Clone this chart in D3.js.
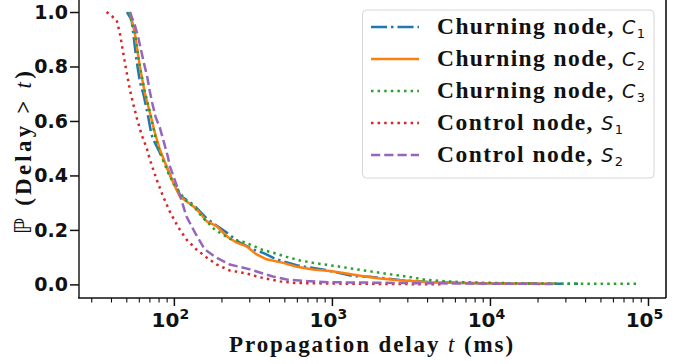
<!DOCTYPE html>
<html>
<head>
<meta charset="utf-8">
<script src="https://cdn.jsdelivr.net/npm/d3@7.9.0/dist/d3.min.js"></script>
<style>
  body { margin: 0; background: #fff; }
  svg { display: block; }
</style>
</head>
<body>
<svg id="chart" width="686" height="364"></svg>
<script>
// --- data: [delay ms, P(Delay > t)] ---
const c1 = [[50.5,1.0],[54,0.971],[55.3,0.922],[58,0.824],[60.9,0.745],[64.6,0.692],[68.7,0.616],
  [72.2,0.549],[75.8,0.52],[79.6,0.495],[89.9,0.433],[99,0.373],[109.2,0.326],[120,0.311],[132.5,0.293],
  [146,0.268],[161,0.242],[186,0.216],[216,0.19],[262,0.153],[318,0.128],[367,0.116],[446,0.092],
  [598,0.07],[925,0.052],[1364,0.03],[1741,0.028],[2690,0.016],[4170,0.008],[8650,0.004],[36100,0.002]];
const c2 = [[52.7,1.0],[56.6,0.923],[60.9,0.8],[65.5,0.703],[70.5,0.63],[75.8,0.557],[81.5,0.495],
  [89.9,0.433],[99,0.373],[109.2,0.323],[120,0.305],[132.5,0.287],[146,0.263],[161,0.232],[186,0.214],
  [216,0.177],[250,0.153],[288,0.14],[334,0.11],[386,0.092],[492,0.079],[598,0.065],[762,0.055],
  [971,0.049],[1239,0.04],[1579,0.03],[2013,0.022],[2566,0.016],[4170,0.008],[8650,0.004],[25700,0.002]];
const c3 = [[51.9,1.0],[56.6,0.923],[60.9,0.8],[65.5,0.707],[70.5,0.634],[77.8,0.519],[83.6,0.47],
  [92.1,0.409],[99,0.373],[117.4,0.311],[135.8,0.281],[153,0.244],[181.5,0.201],[226,0.167],[281,0.155],
  [359,0.128],[425,0.116],[516,0.101],[627,0.088],[762,0.079],[925,0.072],[1124,0.065],[1433,0.055],
  [1741,0.048],[2330,0.037],[3120,0.027],[3790,0.018],[5060,0.012],[6740,0.008],[9040,0.006],
  [14800,0.004],[30700,0.0026],[86500,0.002]];
const s1 = [[37.5,1.0],[43.4,0.971],[45.5,0.923],[47.7,0.853],[50.2,0.78],[52.7,0.714],[55.3,0.663],
  [58,0.615],[62.5,0.549],[67.2,0.502],[70.5,0.458],[77.8,0.385],[85.6,0.322],[94.3,0.267],[106,0.212],
  [120,0.165],[139,0.128],[161,0.099],[186,0.073],[226,0.051],[288,0.04],[350,0.026],[469,0.011],
  [591,0.005],[1000,0.003],[3000,0.001],[5000,0.0]];
const s2 = [[52.7,1.0],[56.6,0.952],[59.4,0.909],[64.6,0.813],[67.8,0.762],[70.5,0.707],[72.9,0.667],
  [76.6,0.615],[81.5,0.575],[86,0.527],[91.6,0.469],[94.4,0.433],[106.5,0.348],[120,0.25],[136,0.19],
  [157,0.128],[186,0.098],[226,0.073],[303,0.055],[366,0.04],[423,0.029],[519,0.018],[694,0.012],
  [971,0.008],[2013,0.006],[3767,0.004],[25000,0.0015]];

const seriesNames = ['Churning node, ', 'Churning node, ', 'Churning node, ', 'Control node, ', 'Control node, '];
const seriesSym   = ['C', 'C', 'C', 'S', 'S'];
const seriesSub   = ['1', '2', '3', '1', '2'];
const yTicks = [0, 0.2, 0.4, 0.6, 0.8, 1.0];
const xTicks = [100, 1000, 10000, 100000];

const styles = [
  { color: '#1f77b4', dash: '16,4,2.5,4' },
  { color: '#ff7f0e', dash: null },
  { color: '#2ca02c', dash: '2.5,4.1' },
  { color: '#d62728', dash: '2.5,4.1' },
  { color: '#9467bd', dash: '9.25,4' }
];
const allSeries = [c1, c2, c3, s1, s2];

const svg = d3.select('#chart');
const M = { left: 79, right: 666, top: -1.6, bottom: 298 };

const x = d3.scaleLog().domain([25.1, 130000]).range([M.left, M.right]);
const y = d3.scaleLinear().domain([-0.05, 1.05]).range([M.bottom, M.top]);

const SANS = "'DejaVu Sans', sans-serif";
const SERIF = "'Liberation Serif', 'Times New Roman', serif";

// widen a serif text with letter spacing so it spans the width seen in the picture
function fitWidth(sel, target) {
  const node = sel.node();
  const len = node.getComputedTextLength();
  const n = node.getNumberOfChars();
  sel.style('letter-spacing', ((target - len) / (n - 1)) + 'px');
}

// lines
const line = d3.line().x(d => x(d[0])).y(d => y(d[1]));
allSeries.forEach((s, i) => {
  svg.append('path')
    .datum(s)
    .attr('fill', 'none')
    .attr('stroke', styles[i].color)
    .attr('stroke-width', 2.5)
    .attr('stroke-dasharray', styles[i].dash)
    .attr('d', line);
});

// spines
svg.append('line').attr('x1', M.left).attr('x2', M.left).attr('y1', M.top).attr('y2', M.bottom)
  .attr('stroke', '#555').attr('stroke-width', 2);
svg.append('line').attr('x1', M.left - 1).attr('x2', M.right).attr('y1', M.bottom).attr('y2', M.bottom)
  .attr('stroke', '#111').attr('stroke-width', 1.6);
svg.append('line').attr('x1', M.right).attr('x2', M.right).attr('y1', M.top).attr('y2', M.bottom)
  .attr('stroke', '#111').attr('stroke-width', 1.6);

// y axis
const yAxis = svg.append('g')
  .attr('transform', `translate(${M.left},0)`)
  .call(d3.axisLeft(y).tickValues(yTicks).tickFormat(d3.format('.1f')).tickSize(9).tickPadding(2));
yAxis.select('.domain').remove();
yAxis.selectAll('.tick line').attr('stroke', '#111').attr('stroke-width', 1.5);
yAxis.selectAll('.tick text')
  .style('font-family', SANS).style('font-weight', 'bold').style('font-size', '19px').attr('fill', '#111');

// x axis: minor ticks then major
const minors = [];
for (let e = 1; e <= 5; e++) for (let m = 2; m <= 9; m++) {
  const v = m * Math.pow(10, e);
  if (v > x.domain()[0] && v < x.domain()[1]) minors.push(v);
}
const xMinor = svg.append('g')
  .attr('transform', `translate(0,${M.bottom})`)
  .call(d3.axisBottom(x).tickValues(minors).tickFormat('').tickSize(4.5));
xMinor.select('.domain').remove();
xMinor.selectAll('.tick line').attr('stroke', '#111').attr('stroke-width', 1.1);

const xAxis = svg.append('g')
  .attr('transform', `translate(0,${M.bottom})`)
  .call(d3.axisBottom(x).tickValues(xTicks).tickFormat('').tickSize(8));
xAxis.select('.domain').remove();
xAxis.selectAll('.tick line').attr('stroke', '#111').attr('stroke-width', 1.5);
xAxis.selectAll('.tick').each(function(d) {
  const t = d3.select(this).append('text')
    .attr('y', 29).attr('x', -4)
    .attr('text-anchor', 'middle')
    .attr('fill', '#111')
    .style('font-family', SANS).style('font-weight', 'bold').style('font-size', '20px');
  t.append('tspan').text('10');
  t.append('tspan').attr('dy', -8).style('font-size', '14px').text(Math.round(Math.log10(d)));
});

// axis labels
const xl = svg.append('text')
  .attr('x', 372).attr('y', 352)
  .attr('text-anchor', 'middle')
  .attr('fill', '#111')
  .style('font-family', SERIF).style('font-weight', 'bold').style('font-size', '23px');
xl.append('tspan').text('Propagation delay ');
xl.append('tspan').style('font-style', 'italic').style('font-weight', 'normal').text('t');
xl.append('tspan').text(' (ms)');
fitWidth(xl, 284);

const yl = svg.append('text')
  .attr('transform', 'translate(31,151) rotate(-90)')
  .attr('text-anchor', 'middle')
  .attr('fill', '#111')
  .style('font-family', SERIF).style('font-weight', 'bold').style('font-size', '23px');
yl.append('tspan').style('font-weight', 'normal').style('font-family', SANS).text('\u2119');
yl.append('tspan').text(' (Delay > ');
yl.append('tspan').style('font-style', 'italic').style('font-weight', 'normal').text('t');
yl.append('tspan').text(')');
fitWidth(yl, 163);

// legend
const lg = svg.append('g');
lg.append('rect')
  .attr('x', 362.5).attr('y', 10).attr('width', 291.5).attr('height', 168)
  .attr('rx', 4)
  .attr('fill', '#fff').attr('fill-opacity', 0.85)
  .attr('stroke', '#d6d6d6').attr('stroke-width', 1);

const legendWidths = [208, 208, 208, 186, 186];
seriesNames.forEach((name, i) => {
  const cy = 27 + i * 32;
  lg.append('line')
    .attr('x1', 371).attr('x2', 419).attr('y1', cy).attr('y2', cy)
    .attr('stroke', styles[i].color).attr('stroke-width', 2.5)
    .attr('stroke-dasharray', styles[i].dash);
  const t = lg.append('text')
    .attr('x', 437).attr('y', cy + 7)
    .attr('fill', '#111')
    .style('font-family', SERIF).style('font-weight', 'bold').style('font-size', '23.5px');
  t.append('tspan').text(name);
  t.append('tspan').style('font-family', SANS).style('font-weight', 'normal').style('font-style', 'italic')
    .style('font-size', '19px').text(seriesSym[i]);
  t.append('tspan').attr('dy', 4).style('font-family', SANS).style('font-weight', 'normal')
    .style('font-size', '13px').text(seriesSub[i]);
  fitWidth(t, legendWidths[i]);
});
</script>
</body>
</html>
